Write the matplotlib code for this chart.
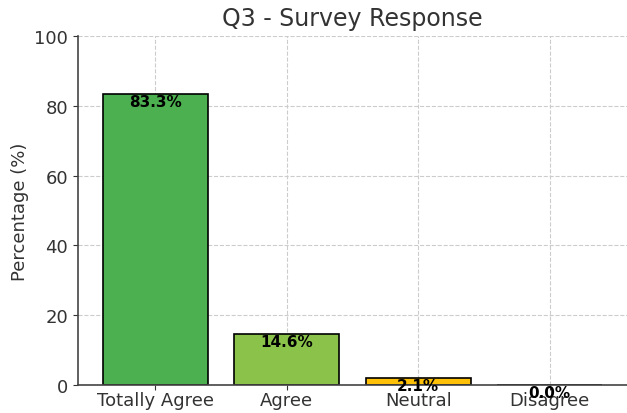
import numpy as np
import matplotlib
matplotlib.use("Agg")
import matplotlib.pyplot as plt

# 数据
categories = ["Totally Agree", "Agree", "Neutral", "Disagree"]
percentages = [83.3, 14.6, 2.1, 0.0]
colors = ["#4CAF50", "#8BC34A", "#FFC107", "#F44336"]

plt.rcParams["text.color"] = "#333333"
plt.rcParams["axes.labelcolor"] = "#333333"
plt.rcParams["xtick.color"] = "#333333"
plt.rcParams["ytick.color"] = "#333333"

fig = plt.figure(figsize=(6.27, 4.14), dpi=100)
ax = fig.add_axes([78 / 627, 28 / 414, 1 - 78 / 627, (386 - 37) / 414])

bars = ax.bar(categories, percentages, color=colors, edgecolor="black", linewidth=1.2, zorder=2)
for b, v in zip(bars, percentages):
    ax.text(b.get_x() + b.get_width() / 2, v, f"{v:.1f}%", ha="center", va="top",
            fontsize=11, fontweight="bold", color="black", zorder=3)

ax.set_ylim(0, 100)
ax.set_title("Q3 - Survey Response", fontsize=17, pad=8)
ax.set_ylabel("Percentage (%)", fontsize=13)
ax.tick_params(labelsize=13)
ax.tick_params(axis="x", pad=0.5)
ax.grid(True, linestyle="--", color="#cccccc", linewidth=0.8, zorder=0)
ax.spines["top"].set_visible(False)
ax.spines["right"].set_visible(False)
ax.spines["left"].set_color("#444444")
ax.spines["bottom"].set_color("#444444")
ax.spines["left"].set_linewidth(1.2)
ax.spines["bottom"].set_linewidth(1.2)

fig.savefig("out.png", dpi=100)
